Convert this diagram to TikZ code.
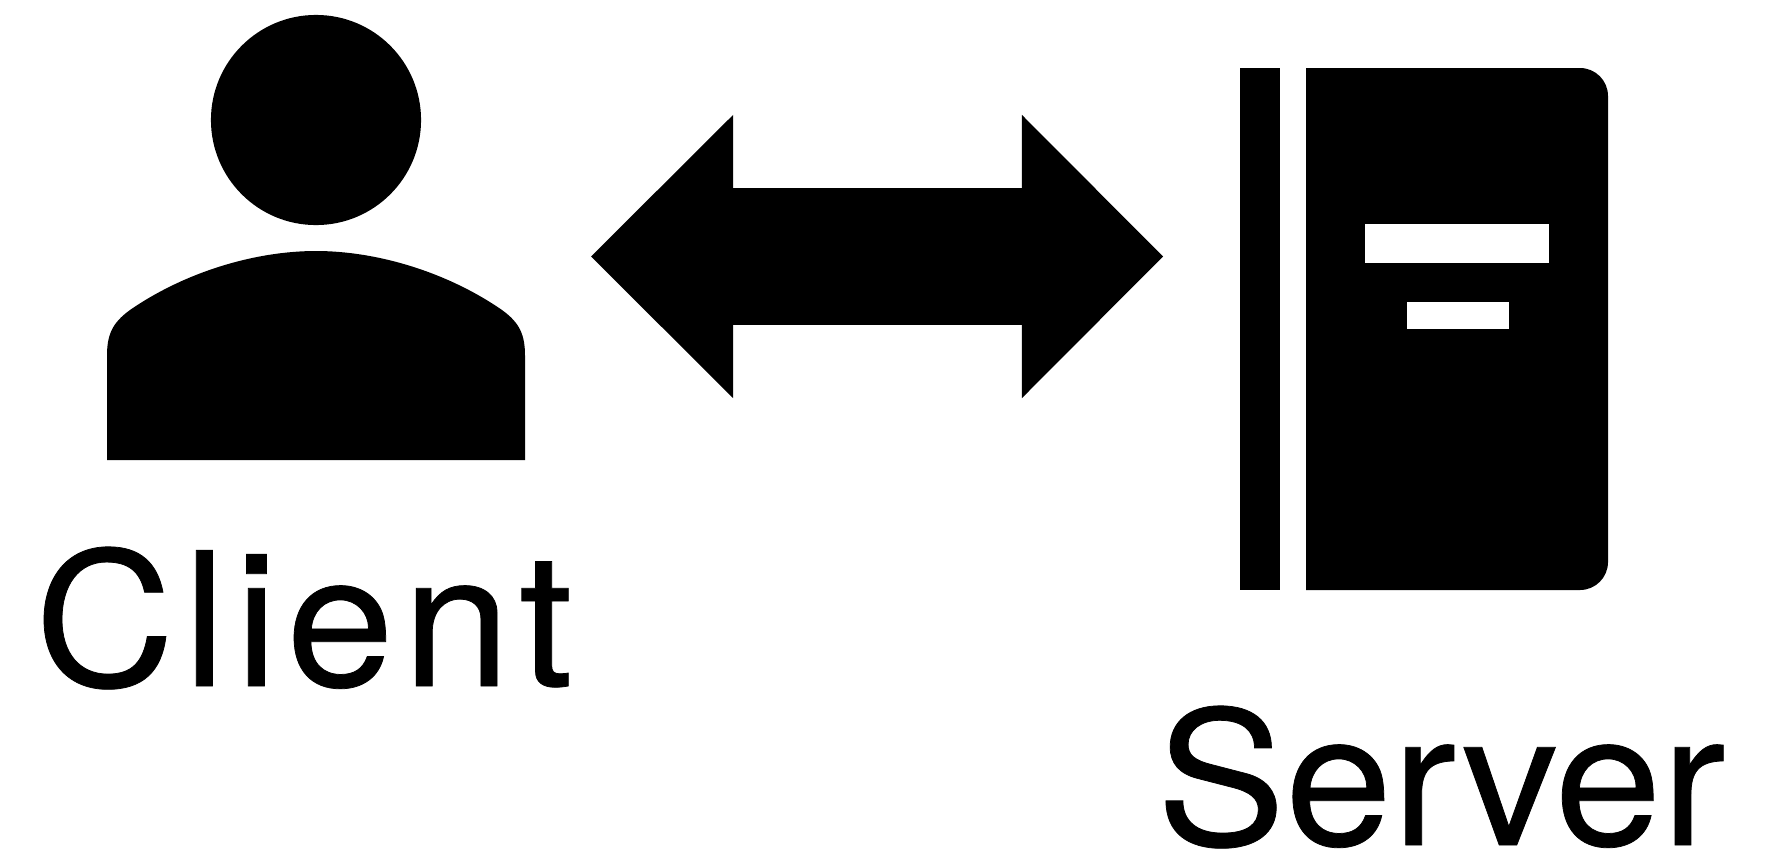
\documentclass[tikz,border=0pt]{standalone}
\usepackage{fontspec}
\setmainfont{TeX Gyre Heros}
\newfontfamily\clientfont[FakeStretch=1.04, FakeBold=0.4, LetterSpace=4.6]{TeX Gyre Heros}
\newfontfamily\serverfont[FakeStretch=1.033, FakeBold=0.4]{TeX Gyre Heros}
\usepackage{tikz}
\usetikzlibrary{arrows.meta,positioning}

\begin{document}
\begin{tikzpicture}[
  x=0.01cm, y=-0.01cm,
  icon/.style={fill=black},
  slot/.style={fill=white},
  lbl/.style={anchor=base west, inner sep=0pt, font=\fontsize{53}{60}\selectfont},
  link/.style={{Triangle[length=1.42cm, width=2.83cm, line width=0pt]}-{Triangle[length=1.41cm, width=2.83cm, line width=0pt]}, line width=1.36cm}
]
\useasboundingbox (0,0) rectangle (1773,851);

\fill[icon] (316,120) circle[radius=1.05cm];
\fill[icon] (107,460) -- (107,356) .. controls (107,335) and (112,323) .. (130,310)
  .. controls (185,272) and (255,251) .. (316,251)
  .. controls (377,251) and (447,272) .. (502,310)
  .. controls (520,323) and (525,335) .. (525,356) -- (525,460) -- cycle;

\fill[icon] (1240,68) rectangle (1280,590);
\fill[icon] (1306,68) [rounded corners=0.28cm] -- (1608,68) -- (1608,590) [sharp corners] -- (1306,590) -- cycle;
\fill[slot] (1365,224) rectangle (1549,263);
\fill[slot] (1407,302) rectangle (1509,329);

\coordinate (clientend) at (591,256.5);
\coordinate (serverend) at (1163,256.5);
\draw[link] (clientend) -- (serverend);

\node[lbl] (client) at (34,686) {\clientfont Client};
\node[lbl] (server) at (1156,845) {\serverfont Server};
\end{tikzpicture}
\end{document}
